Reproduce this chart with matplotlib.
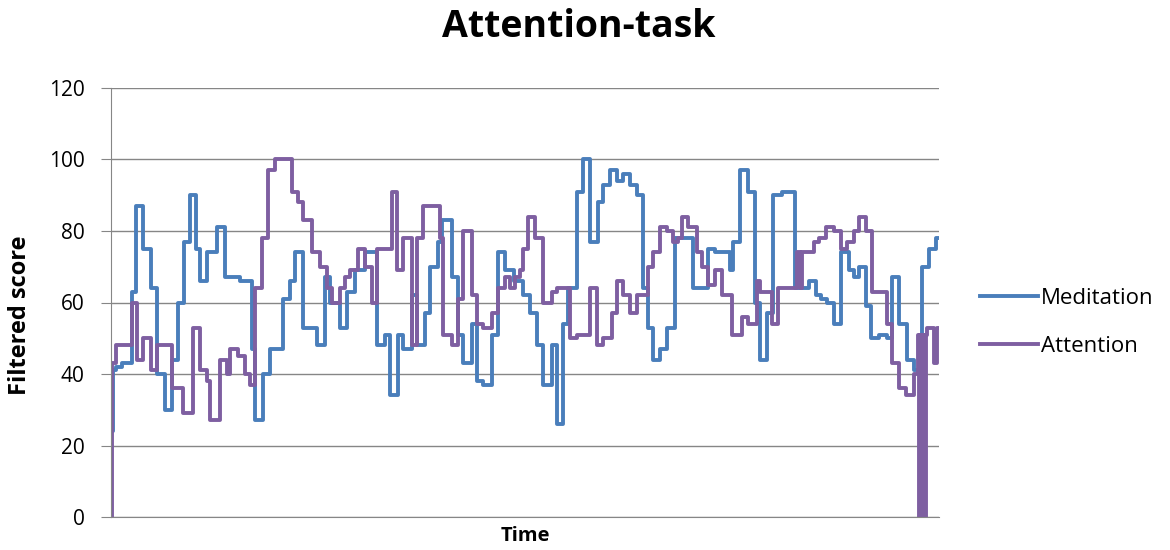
import numpy as np
import matplotlib.pyplot as plt

plt.rcParams['font.family'] = ['Open Sans', 'DejaVu Sans']

# run-length step data (level, duration in ticks)
med_levels = [24, 41, 42, 43, 63, 87, 75, 64, 40, 30, 44, 60, 77, 90, 75, 66, 74, 81, 67, 66,
              47, 27, 40, 47, 61, 66, 74, 53, 48, 67, 60, 53, 63, 69, 74, 48, 51, 34, 51, 47,
              62, 48, 57, 70, 77, 83, 67, 51, 43, 54, 38, 37, 51, 74, 69, 66, 62, 57, 48, 37,
              48, 26, 54, 64, 91, 100, 77, 88, 93, 97, 94, 96, 93, 90, 64, 53, 44, 47, 53, 78,
              64, 75, 74, 69, 77, 97, 91, 60, 44, 57, 90, 91, 64, 66, 62, 61, 60, 54, 74, 69,
              67, 70, 59, 50, 51, 50, 67, 54, 44, 41, 70, 75, 78]
med_runs = [2, 3, 6, 10, 4, 7, 8, 6, 8, 7, 6, 6, 6, 6, 4, 7, 10, 8, 15, 12,
            3, 8, 7, 13, 7, 5, 8, 14, 8, 5, 10, 7, 8, 10, 12, 8, 5, 8, 5, 9,
            5, 8, 5, 8, 4, 10, 6, 5, 9, 5, 6, 9, 6, 7, 9, 9, 7, 7, 6, 9,
            5, 6, 5, 9, 6, 7, 8, 5, 7, 7, 6, 7, 7, 6, 5, 5, 7, 7, 8, 18,
            15, 7, 15, 3, 7, 8, 7, 5, 7, 6, 9, 13, 15, 7, 5, 6, 7, 7, 8, 5,
            5, 7, 5, 8, 8, 5, 7, 8, 7, 8, 7, 7, 5]

att_levels = [0, 43, 48, 60, 44, 50, 41, 48, 36, 29, 53, 41, 38, 27, 44, 40, 47, 45, 40, 37,
              64, 78, 97, 100, 91, 88, 83, 74, 70, 64, 60, 64, 67, 69, 75, 70, 60, 75, 91, 69,
              78, 48, 78, 87, 78, 51, 48, 61, 80, 62, 54, 53, 57, 64, 67, 64, 67, 69, 75, 84,
              78, 60, 63, 64, 50, 51, 64, 48, 50, 57, 66, 62, 57, 62, 70, 74, 81, 80, 77, 78,
              84, 81, 74, 70, 65, 69, 62, 51, 56, 54, 66, 63, 54, 64, 74, 64, 74, 77, 78, 81,
              80, 75, 77, 80, 84, 80, 63, 54, 43, 36, 34, 40,
              51, 0, 51, 0, 51, 0, 51, 0, 51, 53, 43, 53]
att_runs = [1, 4, 16, 5, 6, 8, 6, 15, 11, 10, 7, 7, 3, 10, 7, 3, 8, 7, 5, 5,
            7, 6, 7, 17, 6, 5, 9, 8, 7, 5, 8, 5, 5, 8, 7, 7, 5, 15, 5, 6,
            9, 5, 6, 17, 3, 9, 6, 5, 9, 5, 6, 9, 6, 7, 5, 5, 5, 3, 5, 7,
            8, 9, 5, 13, 7, 13, 7, 6, 9, 5, 6, 7, 7, 11, 5, 7, 7, 6, 5, 4,
            6, 9, 5, 6, 7, 7, 10, 10, 6, 9, 3, 12, 6, 19, 3, 3, 12, 5, 7, 8,
            7, 6, 7, 5, 7, 6, 15, 5, 7, 7, 8, 4,
            1, 1, 1, 1, 1, 1, 1, 1, 1, 7, 3, 4]

y_ticks = [0, 20, 40, 60, 80, 100, 120]


def steps(levels, runs):
    t = np.concatenate([[0], np.cumsum(runs)])
    v = np.array(levels + [levels[-1]])
    return t, v


fig = plt.figure(figsize=(11.7, 5.5), dpi=100)
ax = fig.add_axes([0.0949, 0.06, 0.708, 0.78])

tm, vm = steps(med_levels, med_runs)
ta, va = steps(att_levels, att_runs)
ax.step(tm, vm, where='post', color='#4a7ebb', lw=2.8, label='Meditation')
ax.step(ta, va, where='post', color='#7e5fa1', lw=2.8, label='Attention')

ax.set_xlim(0, max(tm[-1], ta[-1]) - 2)
ax.set_ylim(0, 120)
ax.set_yticks(y_ticks)
ax.tick_params(axis='y', labelsize=15, length=7, color='#868686', pad=12)
ax.set_xticks([])
ax.yaxis.grid(True, color='#868686', lw=1)
ax.set_axisbelow(True)
for s in ['top', 'right']:
    ax.spines[s].set_visible(False)
for s in ['left', 'bottom']:
    ax.spines[s].set_color('#868686')

fig.text(0.495, 0.951, 'Attention-task', fontsize=27, fontweight='bold', ha='center', va='center')
ax.set_ylabel('Filtered score', fontsize=17, fontweight='bold')
ax.yaxis.set_label_coords(-0.095, 0.47)
ax.set_xlabel('Time', fontsize=14.5, fontweight='bold', va='top')
ax.xaxis.set_label_coords(0.5, -0.022)

ax.legend(loc='center left', bbox_to_anchor=(0.8376, 0.414), bbox_transform=fig.transFigure,
          frameon=False, fontsize=16, handlelength=2.6, handletextpad=0.15,
          labelspacing=1.2, borderpad=0, borderaxespad=0)

fig.savefig('out.png')
